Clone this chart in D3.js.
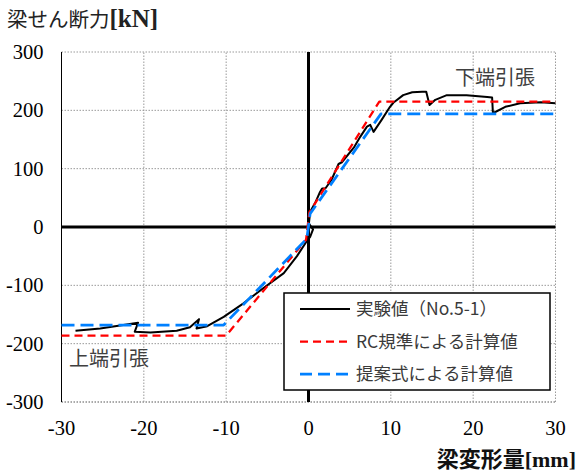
<!DOCTYPE html>
<html>
<head>
<meta charset="utf-8">
<script src="https://cdn.jsdelivr.net/npm/d3@7"></script>
<style>
  body { margin: 0; background: #fff; }
  svg { display: block; }
</style>
</head>
<body>
<div id="chart"></div>
<script>
// tick values
const xTicks = [-30, -20, -10, 0, 10, 20, 30];
const yTicks = [-300, -200, -100, 0, 100, 200, 300];

// 実験値 (No.5-1), [deformation mm, shear kN]
const expData = [
  [-28.3, -178], [-25.3, -174], [-22.5, -168], [-20.7, -164], [-21.1, -179.5],
  [-19.2, -181], [-16.0, -178], [-14.4, -172], [-13.3, -158], [-13.6, -174],
  [-12.3, -170], [-10.3, -154], [-7.9, -131], [-5.5, -105], [-3.0, -79],
  [-1.4, -50], [-0.2, -24], [0.2, -17], [0.55, -4], [0.05, 6],
  [0.2, 26], [0.8, 41], [1.4, 60], [1.65, 66], [2.05, 66], [2.8, 81],
  [3.65, 108], [4.05, 111], [5.5, 136], [6.3, 155], [7.1, 172], [7.5, 175],
  [7.9, 163], [8.9, 184], [9.9, 206], [10.3, 213], [11.5, 226], [12.6, 231],
  [13.8, 232], [14.3, 232], [14.7, 209], [15.4, 218], [16.8, 226], [19.2, 226],
  [21.7, 223], [22.3, 222], [22.4, 195], [23.9, 206], [25.7, 212], [28.2, 214],
  [30, 212]
];

// RC規準による計算値
const rcData = [
  [-30, -186], [-10, -186], [-0.3, -22], [0.1, 25], [8.6, 215], [30, 215]
];

// 提案式による計算値
const propData = [
  [-30, -168], [-10.3, -168], [-0.2, -20], [0.2, 23], [8.8, 194], [30, 194]
];

const seriesNames = ["実験値（No.5-1）", "RC規準による計算値", "提案式による計算値"];
const seriesColors = ["#000000", "#ff0000", "#0080ff"];
const seriesDash = [null, "8,5", "13,6"];
const seriesWidth = [2, 2.25, 2.75];
const series = [expData, rcData, propData];

const width = 579, height = 474;
const margin = {top: 52, right: 23.5, bottom: 72, left: 61.5};

const svg = d3.select("#chart").append("svg")
  .attr("width", width)
  .attr("height", height);

const x = d3.scaleLinear().domain([-30, 30]).range([margin.left, width - margin.right]);
const y = d3.scaleLinear().domain([-300, 300]).range([height - margin.bottom, margin.top]);

// grid
svg.append("g").selectAll("line")
  .data(yTicks)
  .join("line")
  .attr("x1", x(-30)).attr("x2", x(30))
  .attr("y1", d => y(d)).attr("y2", d => y(d))
  .attr("stroke", d => d === -300 ? "#555" : "#9a9a9a")
  .attr("stroke-width", 1)
  .attr("stroke-dasharray", "1.5,1.5");

svg.append("g").selectAll("line")
  .data(xTicks.filter(d => d !== -30))
  .join("line")
  .attr("y1", y(-300)).attr("y2", y(300))
  .attr("x1", d => x(d)).attr("x2", d => x(d))
  .attr("stroke", "#9a9a9a")
  .attr("stroke-width", 1)
  .attr("stroke-dasharray", "1.5,1.5");

// left border
svg.append("line")
  .attr("x1", x(-30)).attr("x2", x(-30))
  .attr("y1", y(-300)).attr("y2", y(300))
  .attr("stroke", "#000").attr("stroke-width", 1);

// tick labels (drawn by hand so the serif font sticks)
const tickFont = "'Liberation Serif', 'Times New Roman', serif";
svg.append("g").selectAll("text")
  .data(yTicks)
  .join("text")
  .attr("x", margin.left - 18)
  .attr("y", d => y(d))
  .attr("dy", "0.34em")
  .attr("text-anchor", "end")
  .style("font-family", tickFont)
  .style("font-size", "20.5px")
  .attr("fill", "#000")
  .text(d => String(d));

svg.append("g").selectAll("text")
  .data(xTicks)
  .join("text")
  .attr("x", d => x(d))
  .attr("y", 435)
  .attr("text-anchor", "middle")
  .style("font-family", tickFont)
  .style("font-size", "20.5px")
  .attr("fill", "#000")
  .text(d => String(d));

// zero axes
svg.append("line")
  .attr("x1", x(-30)).attr("x2", x(30))
  .attr("y1", y(0)).attr("y2", y(0))
  .attr("stroke", "#000").attr("stroke-width", 3);
svg.append("line")
  .attr("x1", x(0)).attr("x2", x(0))
  .attr("y1", y(-300)).attr("y2", y(300))
  .attr("stroke", "#000").attr("stroke-width", 3);

// data lines
const line = d3.line().x(d => x(d[0])).y(d => y(d[1]));
series.forEach((s, i) => {
  svg.append("path")
    .datum(s)
    .attr("d", line)
    .attr("fill", "none")
    .attr("stroke", seriesColors[i])
    .attr("stroke-width", seriesWidth[i])
    .attr("stroke-dasharray", seriesDash[i])
    .attr("stroke-linejoin", "round");
});

// annotations
const jpFont = "'Noto Sans CJK JP', 'Noto Sans', sans-serif";
svg.append("text")
  .attr("x", 455).attr("y", 85)
  .style("font-family", jpFont).style("font-size", "20px")
  .attr("fill", "#404040")
  .text("下端引張");
svg.append("text")
  .attr("x", 69).attr("y", 366)
  .style("font-family", jpFont).style("font-size", "20px")
  .attr("fill", "#404040")
  .text("上端引張");

// axis titles
const yTitle = svg.append("text")
  .attr("x", 7).attr("y", 27)
  .attr("fill", "#222");
yTitle.append("tspan")
  .style("font-family", jpFont).style("font-size", "20.5px")
  .text("梁せん断力");
yTitle.append("tspan")
  .style("font-family", tickFont).style("font-size", "25px").style("font-weight", "bold")
  .text("[kN]");

const xTitle = svg.append("text")
  .attr("x", 576).attr("y", 467)
  .attr("text-anchor", "end")
  .attr("fill", "#111");
xTitle.append("tspan")
  .style("font-family", jpFont).style("font-size", "22px").style("font-weight", "bold")
  .text("梁変形量");
xTitle.append("tspan")
  .style("font-family", tickFont).style("font-size", "22px").style("font-weight", "bold")
  .text("[mm]");

// legend
const legend = svg.append("g").attr("transform", "translate(284,293)");
legend.append("rect")
  .attr("width", 266).attr("height", 97)
  .attr("fill", "#fff")
  .attr("stroke", "#000").attr("stroke-width", 1.5);

const item = legend.selectAll("g.item")
  .data(seriesNames)
  .join("g")
  .attr("class", "item")
  .attr("transform", (d, i) => `translate(0,${16 + i * 32.5})`);
item.append("line")
  .attr("x1", 16).attr("x2", 66)
  .attr("stroke", (d, i) => seriesColors[i])
  .attr("stroke-width", (d, i) => seriesWidth[i])
  .attr("stroke-dasharray", (d, i) => i === 1 ? "8,5" : i === 2 ? "12,6" : null);
item.append("text")
  .attr("x", 72).attr("y", 6)
  .style("font-family", jpFont).style("font-size", "17.5px")
  .attr("fill", "#3a3a3a")
  .text(d => d);
</script>
</body>
</html>
